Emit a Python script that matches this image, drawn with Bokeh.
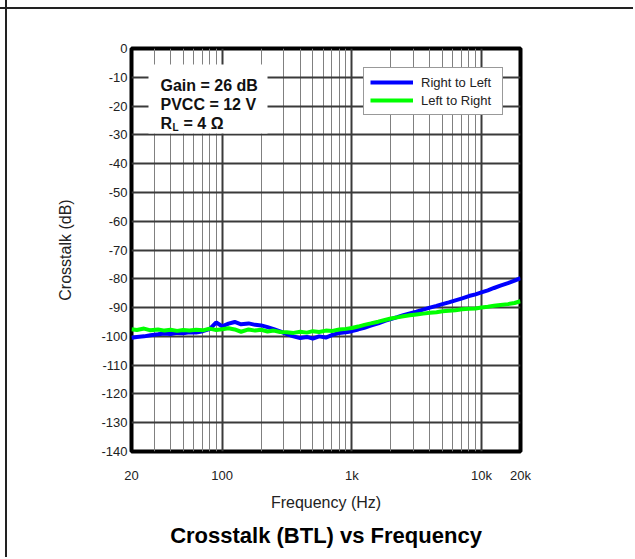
from bokeh.plotting import figure
from bokeh.models import (Range1d, FixedTicker, Legend, LegendItem, Label,
                          BoxAnnotation, ColumnDataSource, Title)
from bokeh.embed import file_html
from bokeh.resources import INLINE

# ---------------- data ----------------
freq_hz = [20, 22, 25, 28, 32, 36, 40, 45, 50, 56, 63, 71, 80, 90, 100, 112, 125,
           140, 160, 180, 200, 224, 250, 280, 315, 355, 400, 450, 500, 560, 630,
           710, 800, 900, 1000, 1120, 1250, 1400, 1600, 1800, 2000, 2240, 2500,
           2800, 3150, 3550, 4000, 4500, 5000, 5600, 6300, 7100, 8000, 9000,
           10000, 11200, 12500, 14000, 16000, 18000, 20000]

right_to_left_db = [-100.5, -100.2, -100.0, -99.6, -99.3, -99.0, -99.2, -98.8, -98.9,
                    -98.6, -98.7, -98.2, -97.5, -95.2, -96.5, -95.6, -95.0, -95.8,
                    -95.5, -96.0, -96.2, -96.8, -97.5, -98.3, -99.2, -100.0, -100.6,
                    -100.2, -100.8, -100.0, -100.4, -99.5, -98.8, -98.6, -98.2, -97.6,
                    -97.0, -96.3, -95.5, -94.6, -94.0, -93.3, -92.6, -92.0, -91.4,
                    -90.7, -90.0, -89.4, -88.8, -88.2, -87.5, -86.8, -86.0, -85.4,
                    -84.7, -84.0, -83.2, -82.4, -81.5, -80.6, -79.8]

left_to_right_db = [-97.5, -97.8, -97.3, -97.9, -97.6, -98.0, -97.7, -98.1, -97.8,
                    -98.0, -97.7, -97.9, -97.3, -97.8, -97.5, -97.2, -97.6, -98.4,
                    -97.6, -98.0, -97.7, -98.3, -98.0, -98.5, -98.6, -98.8, -98.4,
                    -98.7, -98.2, -98.5, -98.0, -98.1, -97.6, -97.4, -97.1, -96.6,
                    -96.0, -95.5, -94.9, -94.3, -93.8, -93.4, -93.0, -92.7, -92.4,
                    -92.1, -91.8, -91.6, -91.3, -91.1, -90.9, -90.6, -90.4, -90.3,
                    -90.0, -89.7, -89.4, -89.1, -88.8, -88.4, -87.8]

series_names = ["Right to Left", "Left to Right"]
series_colors = ["#0000FF", "#00FF00"]

x_tick_values = [20, 100, 1000, 10000, 20000]
x_tick_labels = ["20", "100", "1k", "10k", "20k"]
x_minor_values = [30, 40, 50, 60, 70, 80, 90,
                  200, 300, 400, 500, 600, 700, 800, 900,
                  2000, 3000, 4000, 5000, 6000, 7000, 8000, 9000]
y_tick_values = list(range(-140, 1, 10))
y_tick_labels = [str(v) for v in y_tick_values]

notes = ["Gain = 26 dB", "PVCC = 12 V"]
title_text = "Crosstalk (BTL) vs Frequency"
x_label_text = "Frequency (Hz)"
y_label_text = "Crosstalk (dB)"

# ---------------- layout ----------------
W, H = 633, 557
FL, FT = 131, 48
FR, FB = W - 520, H - 451
FONT = "Liberation Sans"

p = figure(width=W, height=H, x_axis_type="log",
           x_range=Range1d(20, 20000), y_range=Range1d(-140, 0),
           output_backend="svg", toolbar_location=None,
           min_border_left=FL, min_border_top=FT,
           min_border_right=FR, min_border_bottom=FB)
p.background_fill_color = "white"
p.border_fill_color = None
p.outline_line_color = "black"
p.outline_line_width = 4
# page frame lines (top and left) painted behind the transparent border area
p.styles = {"background": "linear-gradient(#222,#222) 0px 7px / 100% 2px no-repeat, "
                          "linear-gradient(#222,#222) 5px 0px / 2px 100% no-repeat, white"}

p.xaxis.ticker = FixedTicker(ticks=x_tick_values, minor_ticks=x_minor_values)
p.xaxis.major_label_overrides = {v: s for v, s in zip(x_tick_values, x_tick_labels)}
p.yaxis.ticker = FixedTicker(ticks=y_tick_values)
p.yaxis.major_label_overrides = {v: s for v, s in zip(y_tick_values, y_tick_labels)}
for ax in (p.xaxis, p.yaxis):
    ax.axis_line_color = None
    ax.major_tick_line_color = None
    ax.minor_tick_line_color = None
    ax.major_tick_in = 0
    ax.major_tick_out = 0
    ax.minor_tick_in = 0
    ax.minor_tick_out = 0
    ax.major_label_text_font = FONT
    ax.major_label_text_font_size = "13px"
    ax.major_label_text_color = "#222222"
    ax.axis_label_text_font = FONT
    ax.axis_label_text_font_size = "16px"
    ax.axis_label_text_font_style = "normal"
    ax.axis_label_text_color = "#222222"
p.xaxis.major_label_standoff = 16
p.yaxis.major_label_standoff = 4
p.xaxis.axis_label = x_label_text
p.yaxis.axis_label = y_label_text
p.xaxis.axis_label_standoff = 8
p.yaxis.axis_label_standoff = 24

p.xgrid.grid_line_color = "#3a3a3a"
p.xgrid.grid_line_width = 2
p.xgrid.minor_grid_line_color = "#808080"
p.xgrid.minor_grid_line_width = 1
p.ygrid.grid_line_color = "#3a3a3a"
p.ygrid.grid_line_width = 2

src = ColumnDataSource(dict(f=freq_hz, rl=right_to_left_db, lr=left_to_right_db))
r_rl = p.line("f", "rl", source=src, line_color=series_colors[0], line_width=4)
r_lr = p.line("f", "lr", source=src, line_color=series_colors[1], line_width=4)

legend = Legend(items=[LegendItem(label=series_names[0], renderers=[r_rl]),
                       LegendItem(label=series_names[1], renderers=[r_lr])],
                location=(232, 336))
legend.border_line_color = "#333333"
legend.border_line_width = 1
legend.background_fill_color = "white"
legend.background_fill_alpha = 1
legend.label_text_font = FONT
legend.label_text_font_size = "13px"
legend.label_text_color = "#222222"
legend.glyph_width = 43
legend.glyph_height = 16
legend.label_height = 16
legend.label_width = 75
legend.label_standoff = 8
legend.padding = 6
legend.spacing = 2
legend.margin = 0
p.add_layout(legend)

# white panel behind the condition notes
p.add_layout(BoxAnnotation(left=17, right=136, top=387, bottom=318,
                           left_units="screen", right_units="screen",
                           top_units="screen", bottom_units="screen",
                           fill_color="white", fill_alpha=1, line_color=None))

def lab(x, y, text, size, bold=True):
    p.add_layout(Label(x=x, y=y, x_units="screen", y_units="screen", text=text,
                       text_font=FONT, text_font_size=size,
                       text_font_style="bold" if bold else "normal",
                       text_align="left", text_baseline="middle",
                       text_color="#111111"))

lab(29, 366, notes[0], "16px")
lab(29, 347, notes[1], "16px")
lab(29, 328, "R", "16px")
lab(41, 324, "L", "10px")
lab(52, 328, "= 4 \u03a9", "16px")

title = Title(text=title_text, align="center", text_font=FONT,
              text_font_size="22px", text_font_style="bold", text_color="#000000",
              standoff=15)
p.add_layout(title, "below")

open("out.html", "w").write(file_html(p, INLINE))
